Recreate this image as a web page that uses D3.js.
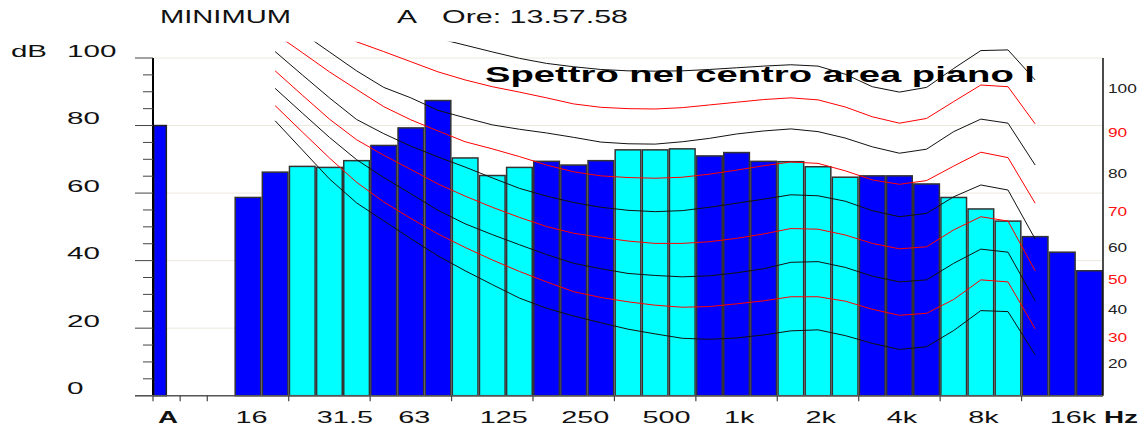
<!DOCTYPE html>
<html><head><meta charset="utf-8">
<script src="https://cdn.jsdelivr.net/npm/d3@7"></script>
<style>
body{margin:0;background:#fff}
svg{display:block}
text{font-family:"Liberation Sans",Arial,sans-serif}
</style>
</head><body>
<svg id="c" width="1147" height="432"></svg>
<script>
// ---------- DATA ----------
const bands = ["16","20","25","31.5","40","50","63","80","100","125","160","200","250","315","400","500","630","800","1k","1.25k","1.6k","2k","2.5k","3.15k","4k","5k","6.3k","8k","10k","12.5k","16k","20k"];
const levels = [58.7,66.2,67.9,67.6,69.6,74.1,79.3,87.4,70.4,65.2,67.6,69.4,68.3,69.6,72.8,72.8,73.1,71.0,72.0,69.4,69.3,67.8,64.7,65.1,65.1,62.7,58.7,55.3,51.7,47.1,42.5,37.0];
const levelA = 80.0;
const octaveLabels = ["16","31.5","63","125","250","500","1k","2k","4k","8k","16k"];
const yTicks = [0,20,40,60,80,100];
const curveBands = ["20","25","31.5","40","50","63","80","100","125","160","200","250","315","400","500","630","800","1k","1.25k","1.6k","2k","2.5k","3.15k","4k","5k","6.3k","8k","10k","12.5k"];
const curve20  = [81.4,72.8,64.2,57.1,51.8,46.5,41.4,37.0,32.9,28.9,25.9,23.6,21.6,19.7,18.3,17.0,16.7,17.1,18.0,19.2,19.5,17.8,15.5,13.7,14.5,19.3,25.2,24.9,12.1];
const curve30  = [85.9,78.1,70.4,63.2,57.4,52.5,47.9,43.9,40.2,36.8,33.7,30.8,29.1,27.8,26.8,26.2,26.4,27.2,28.1,29.3,29.3,28.0,25.6,23.8,24.4,28.5,34.3,33.7,19.8];
const curve40  = [91.0,83.7,76.5,69.9,64.6,59.8,54.9,50.9,47.7,44.7,41.8,39.2,37.6,36.2,35.6,35.2,35.5,36.4,37.6,39.5,39.7,38.0,35.4,33.7,34.3,39.2,43.4,42.5,28.1];
const curve50  = [96.2,89.0,81.9,75.8,71.2,67.0,62.7,59.1,55.8,52.8,50.1,48.1,46.9,45.8,45.1,45.1,45.6,46.6,47.9,49.5,49.3,47.6,45.1,43.5,44.1,49.1,53.0,51.7,37.0];
const curve60  = [101.9,95.0,88.2,81.8,77.6,73.9,70.7,67.7,64.5,61.4,59.1,57.2,55.8,54.9,54.5,54.8,55.8,57.0,58.2,59.5,59.2,57.6,54.8,53.0,54.0,58.9,62.4,60.9,46.4];
const curve70  = [107.2,101.6,95.9,90.7,85.6,81.7,78.4,75.2,73.1,70.8,68.3,66.3,65.1,64.6,64.4,64.7,65.6,66.8,68.1,69.2,68.8,66.6,63.9,62.6,63.7,68.0,72.1,70.5,57.0];
const curve80  = [113.0,107.4,101.8,96.2,91.3,88.2,84.5,82.3,80.2,78.9,77.8,76.5,75.1,74.6,74.5,75.2,76.2,77.5,78.4,79.0,78.2,76.3,73.7,71.8,73.0,78.2,81.9,80.7,68.3];
const curve90  = [118.0,113.5,109.0,104.8,101.9,98.9,95.9,93.5,91.5,89.9,88.2,86.4,85.4,85.0,84.9,85.3,86.1,86.9,87.7,88.2,87.6,85.5,82.6,80.7,82.1,87.1,92.0,91.5,80.5];
const curve100 = [123.0,119.0,115.5,112.0,109.5,107.5,105.8,103.8,101.8,99.9,98.4,97.4,96.6,96.2,96.1,96.2,96.6,97.1,97.6,98.0,97.6,95.2,91.5,89.9,91.3,96.9,102.2,102.4,93.5];
const curveLabels = ["20","30","40","50","60","70","80","90","100"];
const curves = [curve20,curve30,curve40,curve50,curve60,curve70,curve80,curve90,curve100];

// ---------- SCALES ----------
const svg = d3.select("#c");
const slots = ["A","10","12.5"].concat(bands);
const x = d3.scaleBand().domain(slots).range([153,1103]).paddingInner(0).paddingOuter(0);
const bw = x.bandwidth();
const y = d3.scaleLinear().domain([0,100]).range([395.7,58]);
const BLUE="#0000ff", CYAN="#00ffff";
const black="#111";

function stretch(sel,f){
  sel.each(function(){
    const w=this.getComputedTextLength();
    this.setAttribute("textLength",(w*f).toFixed(1));
    this.setAttribute("lengthAdjust","spacingAndGlyphs");
  });
}

// gridlines
svg.append("g").selectAll("line").data(yTicks.filter(d=>d>0)).join("line")
  .attr("x1",x.range()[0]).attr("x2",x.range()[1])
  .attr("y1",d=>y(d)).attr("y2",d=>y(d))
  .attr("stroke","#ece8dc").attr("stroke-width",1);

// bars
svg.append("g").selectAll("rect").data(bands.map((b,i)=>({b,v:levels[i],i:slots.indexOf(b)}))).join("rect")
  .attr("x",d=>x(d.b)+0.75).attr("width",bw-1.5)
  .attr("y",d=>y(d.v)).attr("height",d=>y(0)-y(d.v))
  .attr("fill",d=>(Math.floor((d.i-2)/3)%2===0)?BLUE:CYAN)
  .attr("stroke","#333").attr("stroke-width",1.5);
svg.append("rect")
  .attr("x",x("A")+0.75).attr("width",bw/2-1)
  .attr("y",y(levelA)).attr("height",y(0)-y(levelA))
  .attr("fill",BLUE).attr("stroke","#222").attr("stroke-width",1.5);

// curves
svg.append("clipPath").attr("id","clip").append("rect")
  .attr("x",x.range()[0]).attr("width",x.range()[1]-x.range()[0])
  .attr("y",y(104.8)).attr("height",y(0)-y(104.8));
const line = d3.line().x(d=>x(d.b)+bw/2).y(d=>y(d.v));
const cg = svg.append("g").attr("clip-path","url(#clip)");
curves.forEach((c,k)=>{
  cg.append("path").datum(curveBands.map((b,i)=>({b,v:c[i]})))
    .attr("d",line).attr("fill","none")
    .attr("stroke",k%2===0?"#111":"#ff0000").attr("stroke-width",1);
});

// right curve labels
curves.forEach((c,k)=>{
  const t = svg.append("text").attr("x",x.range()[1]+5).attr("y",y(c[c.length-1])+13)
    .attr("font-size",12.5).attr("fill",k%2===0?"#222":"#ff1010").text(curveLabels[k]);
  stretch(t,1.38);
});

// left axis
svg.append("line").attr("x1",153).attr("x2",153).attr("y1",y(100)).attr("y2",y(0))
  .attr("stroke","#000").attr("stroke-width",2);
svg.append("g").selectAll("line").data(d3.range(0,101,5)).join("line")
  .attr("x1",d=>d%20===0?135:143).attr("x2",153)
  .attr("y1",d=>y(d)).attr("y2",d=>y(d))
  .attr("stroke","#444").attr("stroke-width",1);
const yl = svg.append("g").selectAll("text").data(yTicks).join("text")
  .attr("x",67).attr("y",d=>y(d)-1.5).attr("font-size",16).attr("fill",black).text(d=>d);
stretch(yl,1.85);
stretch(svg.append("text").attr("x",11).attr("y",56.7).attr("font-size",16).attr("fill",black).text("dB"),1.84);

// right axis
svg.append("line").attr("x1",x.range()[1]).attr("x2",x.range()[1]).attr("y1",y(100)).attr("y2",y(0))
  .attr("stroke","#111").attr("stroke-width",1.5);

// bottom axis
svg.append("line").attr("x1",135).attr("x2",x.range()[1]).attr("y1",y(0)).attr("y2",y(0))
  .attr("stroke","#555").attr("stroke-width",1.5);
const tickSlots = slots.filter((s,i)=>i<2 || (i>=2 && (i-2)%3===0));
svg.append("g").selectAll("line").data(tickSlots).join("line")
  .attr("x1",d=>x(d)).attr("x2",d=>x(d)).attr("y1",y(0)).attr("y2",y(0)+5.5)
  .attr("stroke","#444").attr("stroke-width",1.2);
const xl = svg.append("g").selectAll("text").data(octaveLabels).join("text")
  .attr("x",d=>x(d)+1).attr("y",423).attr("font-size",16).attr("fill",black).text(d=>d);
stretch(xl,1.8);
stretch(svg.append("text").attr("x",x("A")+bw/2+1.5).attr("y",423).attr("text-anchor","middle")
  .attr("font-size",16).attr("font-weight","bold").attr("fill",black).text("A"),1.73);
stretch(svg.append("text").attr("x",x.range()[1]+1).attr("y",423)
  .attr("font-size",16).attr("font-weight","bold").attr("fill",black).text("Hz"),1.74);

// header
svg.append("text").attr("x",160).attr("y",23).attr("font-size",18.5).attr("fill",black)
  .attr("textLength",131).attr("lengthAdjust","spacingAndGlyphs").text("MINIMUM");
svg.append("text").attr("x",397).attr("y",23).attr("font-size",18.5).attr("fill",black)
  .attr("textLength",20).attr("lengthAdjust","spacingAndGlyphs").text("A");
svg.append("text").attr("x",442).attr("y",23).attr("font-size",18.5).attr("fill",black)
  .attr("textLength",186).attr("lengthAdjust","spacingAndGlyphs").text("Ore: 13.57.58");

// title
svg.append("text").attr("x",485).attr("y",82.3).attr("font-size",22).attr("font-weight","bold")
  .attr("fill","#000").attr("textLength",550).attr("lengthAdjust","spacingAndGlyphs")
  .text("Spettro nel centro area piano l");
</script>
</body></html>
